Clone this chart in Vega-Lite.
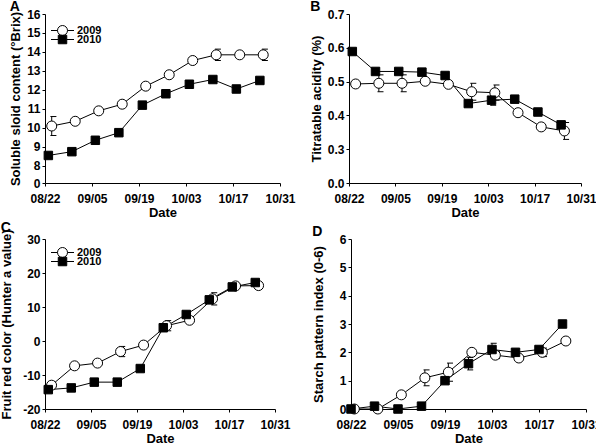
{
  "$schema": "https://vega.github.io/schema/vega-lite/v6.json",
  "padding": {"left": 0, "top": 0, "right": 0, "bottom": 0},
  "config": {
    "font": "Liberation Sans",
    "view": {"stroke": null},
    "axis": {"grid": false, "zindex": 0, "domainColor": "black", "tickColor": "black", "labelColor": "black", "titleColor": "black", "labelFontSize": 12, "labelFontWeight": "bold", "titleFontSize": 13, "titleFontWeight": "bold", "tickSize": 3, "labelPadding": 2, "titlePadding": 2, "labelFlush": false, "labelOverlap": false, "labelBound": false},
    "axisX": {"labelPadding": 7},
    "axisY": {"titlePadding": 4, "labelOverlap": false},
    "title": {"fontSize": 14, "fontWeight": "bold", "anchor": "start", "frame": "bounds", "offset": -6, "color": "black"},
    "legend": {"labelFontSize": 11, "labelFontWeight": "bold", "labelColor": "black"}
  },
  "datasets": {
    "A": [
      {"date": "2009-08-24", "year": "2009", "v": 10.1, "lo": 9.6, "hi": 10.6},
      {"date": "2009-08-31", "year": "2009", "v": 10.35},
      {"date": "2009-09-07", "year": "2009", "v": 10.9},
      {"date": "2009-09-14", "year": "2009", "v": 11.25},
      {"date": "2009-09-21", "year": "2009", "v": 12.2},
      {"date": "2009-09-28", "year": "2009", "v": 12.8},
      {"date": "2009-10-05", "year": "2009", "v": 13.55},
      {"date": "2009-10-12", "year": "2009", "v": 13.85, "lo": 13.55, "hi": 14.15},
      {"date": "2009-10-19", "year": "2009", "v": 13.85},
      {"date": "2009-10-26", "year": "2009", "v": 13.85, "lo": 13.55, "hi": 14.15},
      {"date": "2010-08-23", "year": "2010", "v": 8.55},
      {"date": "2010-08-30", "year": "2010", "v": 8.75},
      {"date": "2010-09-06", "year": "2010", "v": 9.35},
      {"date": "2010-09-13", "year": "2010", "v": 9.75},
      {"date": "2010-09-20", "year": "2010", "v": 11.2},
      {"date": "2010-09-27", "year": "2010", "v": 11.8},
      {"date": "2010-10-04", "year": "2010", "v": 12.3},
      {"date": "2010-10-11", "year": "2010", "v": 12.55},
      {"date": "2010-10-18", "year": "2010", "v": 12.05},
      {"date": "2010-10-25", "year": "2010", "v": 12.5}
    ],
    "B": [
      {"date": "2009-08-24", "year": "2009", "v": 0.493},
      {"date": "2009-08-31", "year": "2009", "v": 0.495, "lo": 0.47, "hi": 0.52},
      {"date": "2009-09-07", "year": "2009", "v": 0.495, "lo": 0.47, "hi": 0.52},
      {"date": "2009-09-14", "year": "2009", "v": 0.501},
      {"date": "2009-09-21", "year": "2009", "v": 0.492},
      {"date": "2009-09-28", "year": "2009", "v": 0.47, "lo": 0.445, "hi": 0.495},
      {"date": "2009-10-05", "year": "2009", "v": 0.467, "lo": 0.445, "hi": 0.49},
      {"date": "2009-10-12", "year": "2009", "v": 0.408},
      {"date": "2009-10-19", "year": "2009", "v": 0.366},
      {"date": "2009-10-26", "year": "2009", "v": 0.354, "lo": 0.329, "hi": 0.379},
      {"date": "2010-08-23", "year": "2010", "v": 0.589},
      {"date": "2010-08-30", "year": "2010", "v": 0.53},
      {"date": "2010-09-06", "year": "2010", "v": 0.53},
      {"date": "2010-09-13", "year": "2010", "v": 0.528},
      {"date": "2010-09-20", "year": "2010", "v": 0.518},
      {"date": "2010-09-27", "year": "2010", "v": 0.435},
      {"date": "2010-10-04", "year": "2010", "v": 0.445, "lo": 0.43, "hi": 0.46},
      {"date": "2010-10-11", "year": "2010", "v": 0.448},
      {"date": "2010-10-18", "year": "2010", "v": 0.41},
      {"date": "2010-10-25", "year": "2010", "v": 0.372, "lo": 0.362, "hi": 0.382}
    ],
    "C": [
      {"date": "2009-08-24", "year": "2009", "v": -13},
      {"date": "2009-08-31", "year": "2009", "v": -7.3},
      {"date": "2009-09-07", "year": "2009", "v": -6.5},
      {"date": "2009-09-14", "year": "2009", "v": -3.1, "lo": -4.6, "hi": -1.6},
      {"date": "2009-09-21", "year": "2009", "v": -1.2},
      {"date": "2009-09-28", "year": "2009", "v": 4.5, "lo": 3.0, "hi": 6.0},
      {"date": "2009-10-05", "year": "2009", "v": 6.1},
      {"date": "2009-10-12", "year": "2009", "v": 12.4, "lo": 10.6, "hi": 14.2},
      {"date": "2009-10-19", "year": "2009", "v": 16.2},
      {"date": "2009-10-26", "year": "2009", "v": 16.3},
      {"date": "2010-08-23", "year": "2010", "v": -14.3},
      {"date": "2010-08-30", "year": "2010", "v": -13.8},
      {"date": "2010-09-06", "year": "2010", "v": -12.1},
      {"date": "2010-09-13", "year": "2010", "v": -12.1},
      {"date": "2010-09-20", "year": "2010", "v": -8.1},
      {"date": "2010-09-27", "year": "2010", "v": 3.9},
      {"date": "2010-10-04", "year": "2010", "v": 7.8},
      {"date": "2010-10-11", "year": "2010", "v": 12.1},
      {"date": "2010-10-18", "year": "2010", "v": 15.9},
      {"date": "2010-10-25", "year": "2010", "v": 17.2}
    ],
    "D": [
      {"date": "2009-08-23", "year": "2009", "v": 0},
      {"date": "2009-08-30", "year": "2009", "v": 0},
      {"date": "2009-09-06", "year": "2009", "v": 0.5},
      {"date": "2009-09-13", "year": "2009", "v": 1.1, "lo": 0.82, "hi": 1.38},
      {"date": "2009-09-20", "year": "2009", "v": 1.3, "lo": 0.98, "hi": 1.62},
      {"date": "2009-09-27", "year": "2009", "v": 2.0},
      {"date": "2009-10-04", "year": "2009", "v": 1.9, "lo": 1.78, "hi": 2.02},
      {"date": "2009-10-11", "year": "2009", "v": 1.8},
      {"date": "2009-10-18", "year": "2009", "v": 2.0, "lo": 1.85, "hi": 2.15},
      {"date": "2009-10-25", "year": "2009", "v": 2.4},
      {"date": "2010-08-22", "year": "2010", "v": 0},
      {"date": "2010-08-29", "year": "2010", "v": 0.1},
      {"date": "2010-09-05", "year": "2010", "v": 0},
      {"date": "2010-09-12", "year": "2010", "v": 0.1},
      {"date": "2010-09-19", "year": "2010", "v": 1.0},
      {"date": "2010-09-26", "year": "2010", "v": 1.6, "lo": 1.38, "hi": 1.82},
      {"date": "2010-10-03", "year": "2010", "v": 2.1, "lo": 1.88, "hi": 2.32},
      {"date": "2010-10-10", "year": "2010", "v": 2.0},
      {"date": "2010-10-17", "year": "2010", "v": 2.1},
      {"date": "2010-10-24", "year": "2010", "v": 3.0}
    ]
  },
  "vconcat": [
    {
      "hconcat": [
        {
          "width": 235, "height": 169,
          "title": {"text": "A"},
          "data": {"name": "A"},
          "encoding": {
            "x": {"field": "date", "timeUnit": "monthdate", "type": "temporal", "title": "Date",
              "scale": {"domain": [{"year": 2012, "month": 8, "date": 22}, {"year": 2012, "month": 10, "date": 31}]},
              "axis": {"format": "%m/%d", "formatType": "time", "values": [{"year": 2012, "month": 8, "date": 22}, {"year": 2012, "month": 9, "date": 5}, {"year": 2012, "month": 9, "date": 19}, {"year": 2012, "month": 10, "date": 3}, {"year": 2012, "month": 10, "date": 17}, {"year": 2012, "month": 10, "date": 31}]}}
          },
          "layer": [
            {"mark": {"type": "line", "color": "black", "strokeWidth": 1},
              "encoding": {"detail": {"field": "year"},
                "y": {"field": "v", "type": "quantitative", "title": "Soluble sloid content (°Brix)", "scale": {"domain": [7.1, 16], "nice": false, "zero": false}, "axis": {"values": [7.1, 8, 9, 10, 11, 12, 13, 14, 15, 16], "labelOverlap": false, "labelExpr": "datum.value < 7.5 ? '0' : format(datum.value, 'd')"}}}},
            {"transform": [{"filter": "isValid(datum.lo)"}], "mark": {"type": "rule", "color": "black", "strokeWidth": 1},
              "encoding": {"y": {"field": "lo", "type": "quantitative", "title": "Soluble sloid content (°Brix)", "scale": {"domain": [7.1, 16], "nice": false, "zero": false}, "axis": {"values": [7.1, 8, 9, 10, 11, 12, 13, 14, 15, 16], "labelOverlap": false, "labelExpr": "datum.value < 7.5 ? '0' : format(datum.value, 'd')"}}, "y2": {"field": "hi"}}},
            {"transform": [{"filter": "isValid(datum.lo)"}], "mark": {"type": "tick", "orient": "horizontal", "color": "black", "size": 6, "thickness": 1, "opacity": 1},
              "encoding": {"y": {"field": "lo", "type": "quantitative", "title": "Soluble sloid content (°Brix)", "scale": {"domain": [7.1, 16], "nice": false, "zero": false}, "axis": {"values": [7.1, 8, 9, 10, 11, 12, 13, 14, 15, 16], "labelOverlap": false, "labelExpr": "datum.value < 7.5 ? '0' : format(datum.value, 'd')"}}}},
            {"transform": [{"filter": "isValid(datum.lo)"}], "mark": {"type": "tick", "orient": "horizontal", "color": "black", "size": 6, "thickness": 1, "opacity": 1},
              "encoding": {"y": {"field": "hi", "type": "quantitative", "title": "Soluble sloid content (°Brix)", "scale": {"domain": [7.1, 16], "nice": false, "zero": false}, "axis": {"values": [7.1, 8, 9, 10, 11, 12, 13, 14, 15, 16], "labelOverlap": false, "labelExpr": "datum.value < 7.5 ? '0' : format(datum.value, 'd')"}}}},
            {"transform": [{"filter": "datum.year == '2009'"}], "mark": {"type": "circle", "filled": true, "stroke": "black", "strokeWidth": 1, "opacity": 1, "size": 100},
              "encoding": {"y": {"field": "v", "type": "quantitative", "title": "Soluble sloid content (°Brix)", "scale": {"domain": [7.1, 16], "nice": false, "zero": false}, "axis": {"values": [7.1, 8, 9, 10, 11, 12, 13, 14, 15, 16], "labelOverlap": false, "labelExpr": "datum.value < 7.5 ? '0' : format(datum.value, 'd')"}},
                "fill": {"field": "year", "type": "nominal", "scale": {"domain": ["2009"], "range": ["white"]}, "legend": {"title": null, "orient": "none", "legendX": 12, "legendY": 11, "labelOffset": 9, "symbolSize": 100, "symbolType": "M-2.3,0H-1M1,0A1,1,0,1,1,-1,0A1,1,0,1,1,1,0M1,0H2.3", "symbolStrokeColor": "black", "symbolStrokeWidth": 1}}}},
            {"transform": [{"filter": "datum.year == '2010'"}], "mark": {"type": "square", "filled": true, "stroke": "black", "strokeWidth": 1, "opacity": 1, "size": 72},
              "encoding": {"y": {"field": "v", "type": "quantitative", "title": "Soluble sloid content (°Brix)", "scale": {"domain": [7.1, 16], "nice": false, "zero": false}, "axis": {"values": [7.1, 8, 9, 10, 11, 12, 13, 14, 15, 16], "labelOverlap": false, "labelExpr": "datum.value < 7.5 ? '0' : format(datum.value, 'd')"}},
                "color": {"field": "year", "type": "nominal", "scale": {"domain": ["2010"], "range": ["black"]}, "legend": {"title": null, "orient": "none", "legendX": 12, "legendY": 20, "labelOffset": 9, "symbolSize": 100, "symbolType": "M-2.3,0H-0.85M-0.85,-0.85H0.85V0.85H-0.85ZM0.85,0H2.3", "symbolStrokeColor": "black", "symbolFillColor": "black", "symbolStrokeWidth": 1}}}}
          ]
        },
        {
          "width": 232, "height": 169,
          "title": {"text": "B"},
          "data": {"name": "B"},
          "encoding": {
            "x": {"field": "date", "timeUnit": "monthdate", "type": "temporal", "title": "Date",
              "scale": {"domain": [{"year": 2012, "month": 8, "date": 22}, {"year": 2012, "month": 10, "date": 31}]},
              "axis": {"format": "%m/%d", "formatType": "time", "values": [{"year": 2012, "month": 8, "date": 22}, {"year": 2012, "month": 9, "date": 5}, {"year": 2012, "month": 9, "date": 19}, {"year": 2012, "month": 10, "date": 3}, {"year": 2012, "month": 10, "date": 17}, {"year": 2012, "month": 10, "date": 31}]}}
          },
          "layer": [
            {"mark": {"type": "line", "color": "black", "strokeWidth": 1},
              "encoding": {"detail": {"field": "year"},
                "y": {"field": "v", "type": "quantitative", "title": "Titratable acidity (%)", "scale": {"domain": [0.2, 0.7], "nice": false, "zero": false}, "axis": {"values": [0.2, 0.3, 0.4, 0.5, 0.6, 0.7], "labelOverlap": false, "labelExpr": "datum.value < 0.25 ? '0.0' : format(datum.value, '.1f')"}}}},
            {"transform": [{"filter": "isValid(datum.lo)"}], "mark": {"type": "rule", "color": "black", "strokeWidth": 1},
              "encoding": {"y": {"field": "lo", "type": "quantitative", "title": "Titratable acidity (%)", "scale": {"domain": [0.2, 0.7], "nice": false, "zero": false}, "axis": {"values": [0.2, 0.3, 0.4, 0.5, 0.6, 0.7], "labelOverlap": false, "labelExpr": "datum.value < 0.25 ? '0.0' : format(datum.value, '.1f')"}}, "y2": {"field": "hi"}}},
            {"transform": [{"filter": "isValid(datum.lo)"}], "mark": {"type": "tick", "orient": "horizontal", "color": "black", "size": 6, "thickness": 1, "opacity": 1},
              "encoding": {"y": {"field": "lo", "type": "quantitative", "title": "Titratable acidity (%)", "scale": {"domain": [0.2, 0.7], "nice": false, "zero": false}, "axis": {"values": [0.2, 0.3, 0.4, 0.5, 0.6, 0.7], "labelOverlap": false, "labelExpr": "datum.value < 0.25 ? '0.0' : format(datum.value, '.1f')"}}}},
            {"transform": [{"filter": "isValid(datum.lo)"}], "mark": {"type": "tick", "orient": "horizontal", "color": "black", "size": 6, "thickness": 1, "opacity": 1},
              "encoding": {"y": {"field": "hi", "type": "quantitative", "title": "Titratable acidity (%)", "scale": {"domain": [0.2, 0.7], "nice": false, "zero": false}, "axis": {"values": [0.2, 0.3, 0.4, 0.5, 0.6, 0.7], "labelOverlap": false, "labelExpr": "datum.value < 0.25 ? '0.0' : format(datum.value, '.1f')"}}}},
            {"transform": [{"filter": "datum.year == '2009'"}], "mark": {"type": "circle", "filled": true, "stroke": "black", "strokeWidth": 1, "opacity": 1, "size": 100},
              "encoding": {"y": {"field": "v", "type": "quantitative", "title": "Titratable acidity (%)", "scale": {"domain": [0.2, 0.7], "nice": false, "zero": false}, "axis": {"values": [0.2, 0.3, 0.4, 0.5, 0.6, 0.7], "labelOverlap": false, "labelExpr": "datum.value < 0.25 ? '0.0' : format(datum.value, '.1f')"}},
                "fill": {"field": "year", "type": "nominal", "scale": {"domain": ["2009"], "range": ["white"]}, "legend": {"title": null, "orient": "none", "legendX": 12, "legendY": 9, "labelOffset": 9, "symbolSize": 100, "symbolType": "M-2.3,0H-1M1,0A1,1,0,1,1,-1,0A1,1,0,1,1,1,0M1,0H2.3", "symbolStrokeColor": "black", "symbolStrokeWidth": 1}}}},
            {"transform": [{"filter": "datum.year == '2010'"}], "mark": {"type": "square", "filled": true, "stroke": "black", "strokeWidth": 1, "opacity": 1, "size": 72},
              "encoding": {"y": {"field": "v", "type": "quantitative", "title": "Titratable acidity (%)", "scale": {"domain": [0.2, 0.7], "nice": false, "zero": false}, "axis": {"values": [0.2, 0.3, 0.4, 0.5, 0.6, 0.7], "labelOverlap": false, "labelExpr": "datum.value < 0.25 ? '0.0' : format(datum.value, '.1f')"}},
                "color": {"field": "year", "type": "nominal", "scale": {"domain": ["2010"], "range": ["black"]}, "legend": {"title": null, "orient": "none", "legendX": 12, "legendY": 18, "labelOffset": 9, "symbolSize": 100, "symbolType": "M-2.3,0H-0.85M-0.85,-0.85H0.85V0.85H-0.85ZM0.85,0H2.3", "symbolStrokeColor": "black", "symbolFillColor": "black", "symbolStrokeWidth": 1}}}}
          ]
        }
      ],
      "spacing": 14
    },
    {
      "hconcat": [
        {
          "width": 230, "height": 170,
          "title": {"text": "C"},
          "data": {"name": "C"},
          "encoding": {
            "x": {"field": "date", "timeUnit": "monthdate", "type": "temporal", "title": "Date",
              "scale": {"domain": [{"year": 2012, "month": 8, "date": 22}, {"year": 2012, "month": 10, "date": 31}]},
              "axis": {"format": "%m/%d", "formatType": "time", "values": [{"year": 2012, "month": 8, "date": 22}, {"year": 2012, "month": 9, "date": 5}, {"year": 2012, "month": 9, "date": 19}, {"year": 2012, "month": 10, "date": 3}, {"year": 2012, "month": 10, "date": 17}, {"year": 2012, "month": 10, "date": 31}]}}
          },
          "layer": [
            {"mark": {"type": "line", "color": "black", "strokeWidth": 1},
              "encoding": {"detail": {"field": "year"},
                "y": {"field": "v", "type": "quantitative", "title": "Fruit red color (Hunter a value)", "scale": {"domain": [-20, 30], "nice": false, "zero": false}, "axis": {"values": [-20, -10, 0, 10, 20, 30], "labelOverlap": false, "titlePadding": 9, "labelExpr": "toString(datum.value)"}}}},
            {"transform": [{"filter": "isValid(datum.lo)"}], "mark": {"type": "rule", "color": "black", "strokeWidth": 1},
              "encoding": {"y": {"field": "lo", "type": "quantitative", "title": "Fruit red color (Hunter a value)", "scale": {"domain": [-20, 30], "nice": false, "zero": false}, "axis": {"values": [-20, -10, 0, 10, 20, 30], "labelOverlap": false, "titlePadding": 9, "labelExpr": "toString(datum.value)"}}, "y2": {"field": "hi"}}},
            {"transform": [{"filter": "isValid(datum.lo)"}], "mark": {"type": "tick", "orient": "horizontal", "color": "black", "size": 6, "thickness": 1, "opacity": 1},
              "encoding": {"y": {"field": "lo", "type": "quantitative", "title": "Fruit red color (Hunter a value)", "scale": {"domain": [-20, 30], "nice": false, "zero": false}, "axis": {"values": [-20, -10, 0, 10, 20, 30], "labelOverlap": false, "titlePadding": 9, "labelExpr": "toString(datum.value)"}}}},
            {"transform": [{"filter": "isValid(datum.lo)"}], "mark": {"type": "tick", "orient": "horizontal", "color": "black", "size": 6, "thickness": 1, "opacity": 1},
              "encoding": {"y": {"field": "hi", "type": "quantitative", "title": "Fruit red color (Hunter a value)", "scale": {"domain": [-20, 30], "nice": false, "zero": false}, "axis": {"values": [-20, -10, 0, 10, 20, 30], "labelOverlap": false, "titlePadding": 9, "labelExpr": "toString(datum.value)"}}}},
            {"transform": [{"filter": "datum.year == '2009'"}], "mark": {"type": "circle", "filled": true, "stroke": "black", "strokeWidth": 1, "opacity": 1, "size": 100},
              "encoding": {"y": {"field": "v", "type": "quantitative", "title": "Fruit red color (Hunter a value)", "scale": {"domain": [-20, 30], "nice": false, "zero": false}, "axis": {"values": [-20, -10, 0, 10, 20, 30], "labelOverlap": false, "titlePadding": 9, "labelExpr": "toString(datum.value)"}},
                "fill": {"field": "year", "type": "nominal", "scale": {"domain": ["2009"], "range": ["white"]}, "legend": {"title": null, "orient": "none", "legendX": 12, "legendY": 8, "labelOffset": 9, "symbolSize": 100, "symbolType": "M-2.3,0H-1M1,0A1,1,0,1,1,-1,0A1,1,0,1,1,1,0M1,0H2.3", "symbolStrokeColor": "black", "symbolStrokeWidth": 1}}}},
            {"transform": [{"filter": "datum.year == '2010'"}], "mark": {"type": "square", "filled": true, "stroke": "black", "strokeWidth": 1, "opacity": 1, "size": 72},
              "encoding": {"y": {"field": "v", "type": "quantitative", "title": "Fruit red color (Hunter a value)", "scale": {"domain": [-20, 30], "nice": false, "zero": false}, "axis": {"values": [-20, -10, 0, 10, 20, 30], "labelOverlap": false, "titlePadding": 9, "labelExpr": "toString(datum.value)"}},
                "color": {"field": "year", "type": "nominal", "scale": {"domain": ["2010"], "range": ["black"]}, "legend": {"title": null, "orient": "none", "legendX": 12, "legendY": 17, "labelOffset": 9, "symbolSize": 100, "symbolType": "M-2.3,0H-0.85M-0.85,-0.85H0.85V0.85H-0.85ZM0.85,0H2.3", "symbolStrokeColor": "black", "symbolFillColor": "black", "symbolStrokeWidth": 1}}}}
          ]
        },
        {
          "width": 235, "height": 170,
          "title": {"text": "D"},
          "data": {"name": "D"},
          "encoding": {
            "x": {"field": "date", "timeUnit": "monthdate", "type": "temporal", "title": "Date",
              "scale": {"domain": [{"year": 2012, "month": 8, "date": 22}, {"year": 2012, "month": 10, "date": 31}]},
              "axis": {"format": "%m/%d", "formatType": "time", "values": [{"year": 2012, "month": 8, "date": 22}, {"year": 2012, "month": 9, "date": 5}, {"year": 2012, "month": 9, "date": 19}, {"year": 2012, "month": 10, "date": 3}, {"year": 2012, "month": 10, "date": 17}, {"year": 2012, "month": 10, "date": 31}]}}
          },
          "layer": [
            {"mark": {"type": "line", "color": "black", "strokeWidth": 1},
              "encoding": {"detail": {"field": "year"},
                "y": {"field": "v", "type": "quantitative", "title": "Starch pattern index (0-6)", "scale": {"domain": [0, 6], "nice": false, "zero": false}, "axis": {"values": [0, 1, 2, 3, 4, 5, 6], "labelOverlap": false, "titlePadding": 14}}}},
            {"transform": [{"filter": "isValid(datum.lo)"}], "mark": {"type": "rule", "color": "black", "strokeWidth": 1},
              "encoding": {"y": {"field": "lo", "type": "quantitative", "title": "Starch pattern index (0-6)", "scale": {"domain": [0, 6], "nice": false, "zero": false}, "axis": {"values": [0, 1, 2, 3, 4, 5, 6], "labelOverlap": false, "titlePadding": 14}}, "y2": {"field": "hi"}}},
            {"transform": [{"filter": "isValid(datum.lo)"}], "mark": {"type": "tick", "orient": "horizontal", "color": "black", "size": 6, "thickness": 1, "opacity": 1},
              "encoding": {"y": {"field": "lo", "type": "quantitative", "title": "Starch pattern index (0-6)", "scale": {"domain": [0, 6], "nice": false, "zero": false}, "axis": {"values": [0, 1, 2, 3, 4, 5, 6], "labelOverlap": false, "titlePadding": 14}}}},
            {"transform": [{"filter": "isValid(datum.lo)"}], "mark": {"type": "tick", "orient": "horizontal", "color": "black", "size": 6, "thickness": 1, "opacity": 1},
              "encoding": {"y": {"field": "hi", "type": "quantitative", "title": "Starch pattern index (0-6)", "scale": {"domain": [0, 6], "nice": false, "zero": false}, "axis": {"values": [0, 1, 2, 3, 4, 5, 6], "labelOverlap": false, "titlePadding": 14}}}},
            {"transform": [{"filter": "datum.year == '2009'"}], "mark": {"type": "circle", "filled": true, "stroke": "black", "strokeWidth": 1, "opacity": 1, "size": 100},
              "encoding": {"y": {"field": "v", "type": "quantitative", "title": "Starch pattern index (0-6)", "scale": {"domain": [0, 6], "nice": false, "zero": false}, "axis": {"values": [0, 1, 2, 3, 4, 5, 6], "labelOverlap": false, "titlePadding": 14}},
                "fill": {"field": "year", "type": "nominal", "scale": {"domain": ["2009"], "range": ["white"]}, "legend": {"title": null, "orient": "none", "legendX": 15, "legendY": 9, "labelOffset": 9, "symbolSize": 100, "symbolType": "M-2.3,0H-1M1,0A1,1,0,1,1,-1,0A1,1,0,1,1,1,0M1,0H2.3", "symbolStrokeColor": "black", "symbolStrokeWidth": 1}}}},
            {"transform": [{"filter": "datum.year == '2010'"}], "mark": {"type": "square", "filled": true, "stroke": "black", "strokeWidth": 1, "opacity": 1, "size": 72},
              "encoding": {"y": {"field": "v", "type": "quantitative", "title": "Starch pattern index (0-6)", "scale": {"domain": [0, 6], "nice": false, "zero": false}, "axis": {"values": [0, 1, 2, 3, 4, 5, 6], "labelOverlap": false, "titlePadding": 14}},
                "color": {"field": "year", "type": "nominal", "scale": {"domain": ["2010"], "range": ["black"]}, "legend": {"title": null, "orient": "none", "legendX": 15, "legendY": 18, "labelOffset": 9, "symbolSize": 100, "symbolType": "M-2.3,0H-0.85M-0.85,-0.85H0.85V0.85H-0.85ZM0.85,0H2.3", "symbolStrokeColor": "black", "symbolFillColor": "black", "symbolStrokeWidth": 1}}}}
          ]
        }
      ],
      "spacing": 21
    }
  ],
  "spacing": 2,
  "resolve": {"scale": {"x": "independent", "y": "independent", "fill": "independent", "color": "independent"}}
}
